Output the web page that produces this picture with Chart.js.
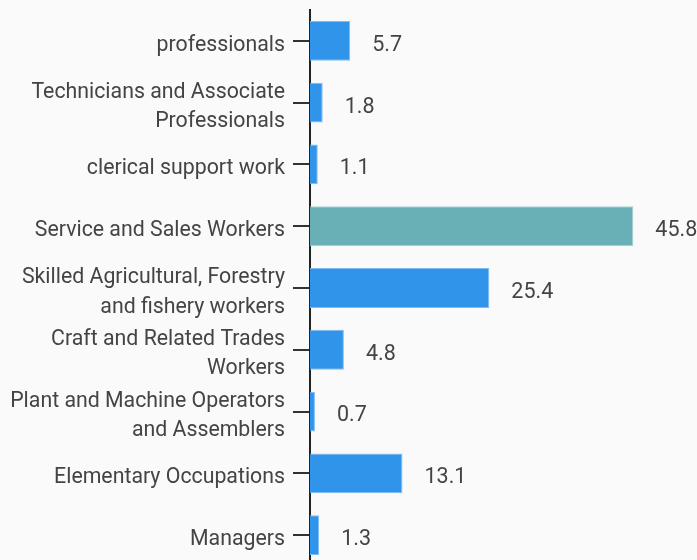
<!DOCTYPE html>
<html>
<head>
<meta charset="utf-8">
<script src="https://cdn.jsdelivr.net/npm/chart.js@4"></script>
<style>
html,body{margin:0;padding:0;background:#fafafa;overflow:hidden;}
canvas{display:block;}
</style>
</head>
<body>
<canvas id="c" width="697" height="567"></canvas>
<script>
const categories = [
  "professionals",
  ["Technicians and Associate", "Professionals"],
  "clerical support work",
  "Service and Sales Workers",
  ["Skilled Agricultural, Forestry", "and fishery workers"],
  ["Craft and Related Trades", "Workers"],
  ["Plant and Machine Operators", "and Assemblers"],
  "Elementary Occupations",
  "Managers"
];
const values = [5.7, 1.8, 1.1, 45.8, 25.4, 4.8, 0.7, 13.1, 1.3];
const highlightIndex = 3;

const fills = values.map((v, i) => i === highlightIndex ? "#69afb6" : "#3094eb");
const borders = values.map((v, i) => i === highlightIndex ? "#a6d3d6" : "#7dbcf2");

const valueLabels = {
  id: "valueLabels",
  afterDatasetsDraw(chart) {
    const ctx = chart.ctx;
    const meta = chart.getDatasetMeta(0);
    ctx.save();
    ctx.font = "21.5px Roboto";
    ctx.fillStyle = "#444";
    ctx.textAlign = "left";
    ctx.textBaseline = "middle";
    meta.data.forEach((bar, i) => {
      ctx.fillText(String(values[i]), bar.x + 22, bar.y + 4.5);
    });
    ctx.restore();
  }
};

new Chart(document.getElementById("c"), {
  type: "bar",
  data: {
    labels: categories,
    datasets: [{
      data: values,
      backgroundColor: fills,
      borderColor: borders,
      borderWidth: 1,
      categoryPercentage: 1,
      barPercentage: 0.645
    }]
  },
  options: {
    indexAxis: "y",
    responsive: false,
    animation: false,
    layout: { padding: { top: 10, right: 34, bottom: 1, left: 0 } },
    plugins: { legend: { display: false }, tooltip: { enabled: false } },
    scales: {
      x: { display: false, min: 0, max: 50 },
      y: {
        afterFit(scale) { scale.width = 310; scale.paddingTop = 0; scale.paddingBottom = 0; },
        border: { display: true, color: "#222", width: 2 },
        grid: { display: true, drawOnChartArea: false, drawTicks: true, tickLength: 17, color: "#333", lineWidth: 2, offset: false },
        ticks: { autoSkip: false, color: "#444", padding: 8, labelOffset: 4.5, font: { family: "Roboto", size: 21.3, lineHeight: 1.38 } }
      }
    }
  },
  plugins: [valueLabels]
});
</script>
</body>
</html>
